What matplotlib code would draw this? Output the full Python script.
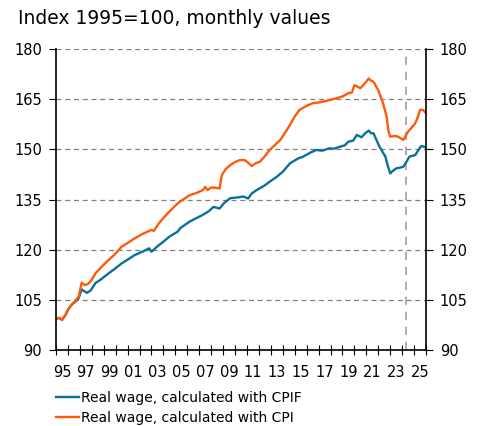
import matplotlib
matplotlib.use("Agg")
import matplotlib.pyplot as plt
import numpy as np

# (decimal years, index 1995=100)
cpi_t = [1995.0, 1995.3, 1995.5, 1995.8, 1996.0, 1996.3, 1996.6, 1996.9, 1997.15, 1997.4,
         1997.7, 1998.0, 1998.3, 1998.8, 1999.4, 1999.9, 2000.5, 2001.0, 2001.6, 2002.3,
         2003.0, 2003.2, 2003.6, 2004.0, 2004.5, 2005.0, 2005.4, 2006.2, 2006.8, 2007.3,
         2007.5, 2007.7, 2008.0, 2008.4, 2008.7, 2008.9, 2009.2, 2009.6, 2010.0, 2010.4,
         2010.8, 2011.1, 2011.4, 2011.7, 2012.1, 2012.5, 2012.9, 2013.4, 2013.8, 2014.2,
         2014.6, 2015.0, 2015.4, 2016.0, 2016.5, 2017.0, 2017.4, 2018.0, 2018.5, 2019.0,
         2019.5, 2019.8, 2020.0, 2020.5, 2020.9, 2021.2, 2021.4, 2021.6, 2022.0, 2022.4,
         2022.7, 2022.85, 2023.0, 2023.5, 2023.8, 2024.1, 2024.5, 2024.8, 2025.1, 2025.3,
         2025.5, 2025.75, 2026.0]
cpi = [99.3, 99.6, 99.0, 100.5, 102.0, 103.5, 104.6, 106.0, 110.1, 109.4,
       109.8, 111.0, 112.9, 114.8, 116.9, 118.5, 120.9, 122.0, 123.4, 124.8,
       125.9, 125.6, 127.8, 129.5, 131.4, 133.2, 134.4, 136.3, 137.0, 137.8,
       138.8, 137.8, 138.6, 138.5, 138.3, 142.3, 144.0, 145.3, 146.2, 146.8,
       146.8, 146.0, 145.0, 145.8, 146.3, 148.0, 149.8, 151.5, 152.8, 155.0,
       157.3, 159.8, 161.8, 163.0, 163.8, 164.0, 164.3, 164.8, 165.3, 165.8,
       166.8, 167.0, 169.2, 168.3, 169.8, 171.2, 170.5, 170.2, 167.7, 163.8,
       159.8, 155.5, 153.8, 154.0, 153.5, 152.8, 155.3, 156.5, 157.8, 159.5,
       161.8, 161.8, 160.8]

cpif_t = [1995.0, 1995.3, 1995.5, 1995.8, 1996.0, 1996.3, 1996.6, 1996.9, 1997.15, 1997.4,
          1997.6, 1997.9, 1998.3, 1998.8, 1999.4, 1999.9, 2000.5, 2001.0, 2001.6, 2002.3,
          2002.8, 2003.0, 2003.5, 2004.0, 2004.5, 2005.2, 2005.4, 2006.2, 2006.8, 2007.3,
          2007.8, 2008.2, 2008.7, 2009.1, 2009.6, 2010.2, 2010.7, 2011.1, 2011.4, 2011.8,
          2012.4, 2012.9, 2013.5, 2014.0, 2014.6, 2015.3, 2015.7, 2016.3, 2016.8, 2017.3,
          2017.9, 2018.3, 2018.8, 2019.2, 2019.5, 2019.9, 2020.2, 2020.6, 2020.9, 2021.2,
          2021.4, 2021.6, 2021.8, 2022.1, 2022.6, 2022.8, 2023.0, 2023.2, 2023.5, 2023.8,
          2024.1, 2024.4, 2024.6, 2025.1, 2025.4, 2025.6, 2026.0]
cpif = [99.3, 99.6, 99.0, 100.5, 102.0, 103.5, 104.4, 105.5, 108.1, 107.5,
        107.1, 107.8, 110.0, 111.2, 112.9, 114.2, 115.9, 117.0, 118.4, 119.5,
        120.4, 119.4, 121.0, 122.4, 123.9, 125.4, 126.4, 128.4, 129.5, 130.4,
        131.5, 132.8, 132.3, 134.0, 135.4, 135.6, 135.9, 135.3, 136.8, 137.8,
        139.0, 140.3, 141.8, 143.3, 145.8, 147.3, 147.8, 149.0, 149.8, 149.6,
        150.3, 150.2, 150.8, 151.2, 152.3, 152.6, 154.3, 153.6, 154.8, 155.6,
        154.8, 154.8, 153.2, 150.8, 147.8, 145.0, 142.8, 143.5, 144.3, 144.5,
        144.8, 146.5, 147.8, 148.3, 150.0, 151.0, 150.6]

yticks = [90, 105, 120, 135, 150, 165, 180]
year_labels = ['95', '97', '99', '01', '03', '05', '07', '09', '11', '13',
               '15', '17', '19', '21', '23', '25']
marker_year = 2024.3

blue = '#0a7099'
orange = '#ff5a0a'

fig = plt.figure(figsize=(4.82, 4.26), dpi=100)
ax = fig.add_axes([56/482, 1 - 350/426, 370/482, 301/426])

l1, = ax.plot(cpif_t, cpif, color=blue, lw=1.7, label='Real wage, calculated with CPIF')
l2, = ax.plot(cpi_t, cpi, color=orange, lw=1.7, label='Real wage, calculated with CPI')
ax.axvline(marker_year, color='#a0a0a0', lw=1.2, ls=(0, (5, 4)), zorder=1)

ax.set_xlim(1995, 2026)
ax.set_ylim(90, 180)
ax.set_yticks(yticks)
for y in yticks[1:]:
    ax.axhline(y, color='#808080', lw=0.9, ls=(0, (4, 3)), zorder=0)

ax.set_xticks(np.arange(1995, 2027))
ax.set_xticklabels([])
ax.set_xticks(np.arange(1995.5, 2026, 2), minor=True)
ax.set_xticklabels(year_labels, minor=True)
ax.tick_params(axis='x', which='major', direction='inout', length=7, width=0.8)
ax.tick_params(axis='x', which='minor', length=0, labelsize=10.5, pad=11)
ax.tick_params(axis='y', direction='out', length=5, width=0.8, labelsize=10.5,
               right=True, labelright=True, pad=5)

for s in ['left', 'right', 'bottom']:
    ax.spines[s].set_linewidth(1.2)
ax.spines['top'].set_visible(False)

fig.text(18/482, 1 - 19/426, 'Index 1995=100, monthly values', fontsize=13.5,
         va='center', ha='left')

fig.legend(handles=[l1, l2], loc='upper left', bbox_to_anchor=(50/482, 1 - 385/426),
           frameon=False, fontsize=10, handlelength=1.7, handletextpad=0.1,
           labelspacing=0.45, borderaxespad=0)

fig.savefig('out.png', dpi=100)
